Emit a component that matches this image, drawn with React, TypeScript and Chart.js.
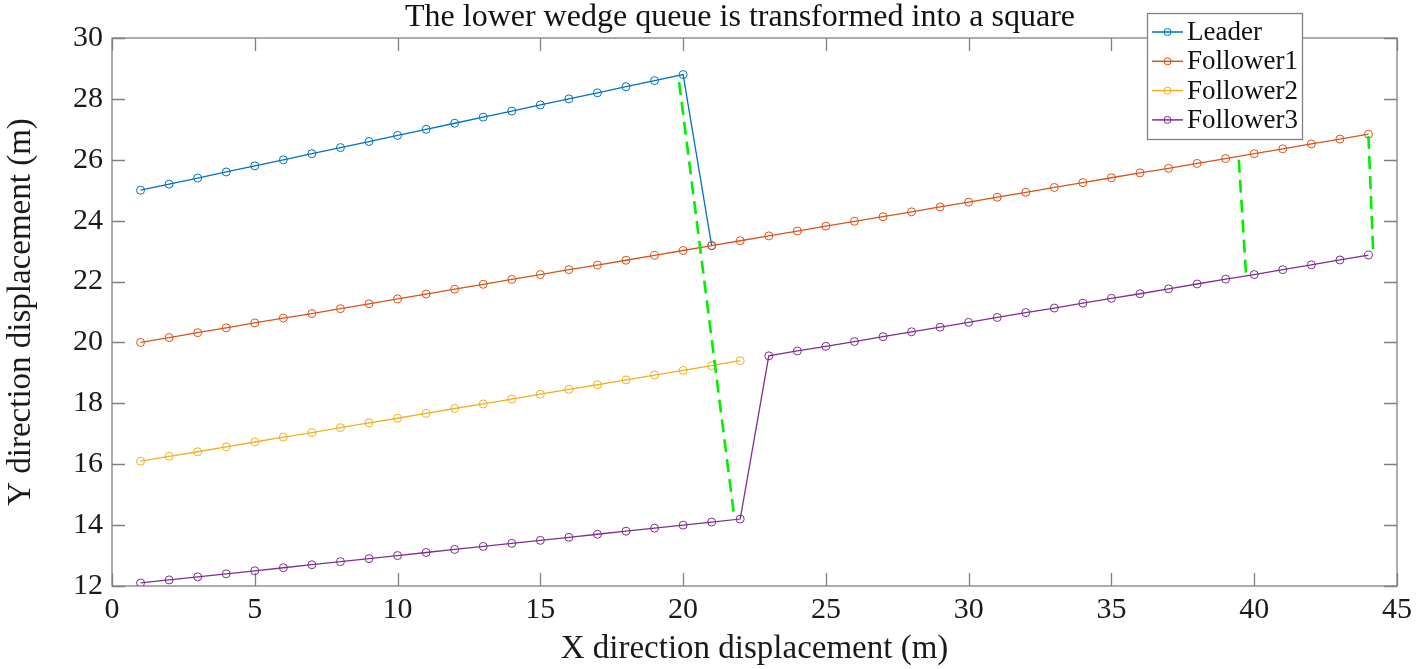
import React, { useEffect, useRef } from 'react';
import { Chart, registerables } from 'chart.js';

Chart.register(...registerables);

const chartTitle = 'The lower wedge queue is transformed into a square';
const xAxisTitle = 'X direction displacement (m)';
const yAxisTitle = 'Y direction displacement (m)';
const xTicks = [0, 5, 10, 15, 20, 25, 30, 35, 40, 45];
const yTicks = [12, 14, 16, 18, 20, 22, 24, 26, 28, 30];

const seriesNames = ['Leader', 'Follower1', 'Follower2', 'Follower3'];
const seriesColors = ['#0072BD', '#D95319', '#EDB120', '#7E2F8E'];

const leaderX = [1, 2, 3, 4, 5, 6, 7, 8, 9, 10, 11, 12, 13, 14, 15, 16, 17, 18, 19, 20, 21];
const leaderY = [25.0, 25.2, 25.4, 25.6, 25.8, 26.0, 26.2, 26.4, 26.6, 26.8, 27.0, 27.2, 27.4, 27.6, 27.8, 28.0, 28.2, 28.4, 28.6, 28.8, 23.18];

const follower1X = [1, 2, 3, 4, 5, 6, 7, 8, 9, 10, 11, 12, 13, 14, 15, 16, 17, 18, 19, 20, 21, 22,
  23, 24, 25, 26, 27, 28, 29, 30, 31, 32, 33, 34, 35, 36, 37, 38, 39, 40, 41, 42, 43, 44];
const follower1Y = [20.00, 20.16, 20.32, 20.48, 20.64, 20.80, 20.95, 21.11, 21.27, 21.43, 21.59, 21.75,
  21.91, 22.07, 22.23, 22.39, 22.54, 22.70, 22.86, 23.02, 23.18, 23.34, 23.50, 23.66, 23.82, 23.98,
  24.13, 24.29, 24.45, 24.61, 24.77, 24.93, 25.09, 25.25, 25.41, 25.57, 25.72, 25.88, 26.04, 26.20,
  26.36, 26.52, 26.68, 26.84];

const follower2X = [1, 2, 3, 4, 5, 6, 7, 8, 9, 10, 11, 12, 13, 14, 15, 16, 17, 18, 19, 20, 21, 22];
const follower2Y = [16.10, 16.26, 16.41, 16.57, 16.73, 16.89, 17.04, 17.20, 17.36, 17.51, 17.67, 17.83,
  17.98, 18.14, 18.30, 18.46, 18.61, 18.77, 18.93, 19.08, 19.24, 19.40];

const follower3X = [1, 2, 3, 4, 5, 6, 7, 8, 9, 10, 11, 12, 13, 14, 15, 16, 17, 18, 19, 20, 21, 22,
  23, 24, 25, 26, 27, 28, 29, 30, 31, 32, 33, 34, 35, 36, 37, 38, 39, 40, 41, 42, 43, 44];
const follower3Y = [12.1, 12.2, 12.3, 12.4, 12.5, 12.6, 12.7, 12.8, 12.9, 13.0, 13.1, 13.2, 13.3, 13.4,
  13.5, 13.6, 13.7, 13.8, 13.9, 14.0, 14.1, 14.2, 19.56, 19.72, 19.87, 20.03, 20.19, 20.35, 20.50,
  20.66, 20.82, 20.98, 21.13, 21.29, 21.45, 21.60, 21.76, 21.92, 22.08, 22.23, 22.39, 22.55, 22.71, 22.87];

// green dashed connector lines (start/end x and y)
const link1X = [19.86, 21.78];
const link1Y = [28.55, 14.35];
const link2X = [39.46, 39.72];
const link2Y = [26.0, 22.15];
const link3X = [44.0, 44.17];
const link3Y = [26.78, 22.87];

const SERIF = '"Liberation Serif", "Times New Roman", serif';
const AXIS_GRAY = '#808080';
const TEXT = '#1a1a1a';

const zip = (xs: number[], ys: number[]) => xs.map((x, i) => ({ x, y: ys[i] }));

const framePlugin = {
  id: 'frameTicks',
  beforeDatasetsDraw(chart: any) {
    const { ctx, chartArea, scales } = chart;
    const { left, right, top, bottom } = chartArea;
    const tl = 13;
    ctx.save();
    ctx.strokeStyle = AXIS_GRAY;
    ctx.lineWidth = 1.3;
    ctx.beginPath();
    xTicks.forEach((v) => {
      const px = Math.round(scales.x.getPixelForValue(v)) + 0.5;
      ctx.moveTo(px, bottom);
      ctx.lineTo(px, bottom - tl);
      ctx.moveTo(px, top);
      ctx.lineTo(px, top + tl);
    });
    yTicks.forEach((v) => {
      const py = Math.round(scales.y.getPixelForValue(v)) + 0.5;
      ctx.moveTo(left, py);
      ctx.lineTo(left + tl, py);
      ctx.moveTo(right, py);
      ctx.lineTo(right - tl, py);
    });
    ctx.stroke();
    ctx.strokeRect(left, top, right - left, bottom - top);
    ctx.restore();
  },
  afterDraw(chart: any) {
    const { ctx } = chart;
    ctx.save();
    // title
    ctx.fillStyle = '#111';
    ctx.font = `32px ${SERIF}`;
    ctx.textAlign = 'center';
    ctx.textBaseline = 'alphabetic';
    ctx.fillText(chartTitle, 740, 26);

    // legend
    const bx = 1147, by = 13, bw = 155, bh = 126;
    ctx.fillStyle = '#ffffff';
    ctx.fillRect(bx, by, bw, bh);
    ctx.strokeStyle = AXIS_GRAY;
    ctx.lineWidth = 1.3;
    ctx.strokeRect(bx + 0.5, by + 0.5, bw, bh);
    ctx.font = `27px ${SERIF}`;
    ctx.textAlign = 'left';
    ctx.textBaseline = 'middle';
    seriesNames.forEach((name, i) => {
      const cy = 32 + i * 29.3;
      ctx.strokeStyle = seriesColors[i];
      ctx.lineWidth = 1.5;
      ctx.beginPath();
      ctx.moveTo(1152, cy);
      ctx.lineTo(1183, cy);
      ctx.stroke();
      ctx.beginPath();
      ctx.arc(1167.5, cy, 3.5, 0, Math.PI * 2);
      ctx.lineWidth = 1;
      ctx.stroke();
      ctx.fillStyle = '#111';
      ctx.fillText(name, 1187, cy + 1);
    });
    ctx.restore();
  },
};

export default function App() {
  const canvasRef = useRef<HTMLCanvasElement | null>(null);

  useEffect(() => {
    if (!canvasRef.current) return;
    const lineDs = (label: string, xs: number[], ys: number[], color: string, order: number) => ({
      label,
      data: zip(xs, ys),
      borderColor: color,
      backgroundColor: 'rgba(0,0,0,0)',
      borderWidth: 1.3,
      showLine: true,
      pointStyle: 'circle',
      pointRadius: 4,
      pointBorderWidth: 1,
      pointBorderColor: color,
      pointBackgroundColor: 'rgba(0,0,0,0)',
      order,
    });
    const dashDs = (xs: number[], ys: number[]) => ({
      label: 'link',
      data: zip(xs, ys),
      borderColor: '#00ee00',
      borderWidth: 2.6,
      borderDash: [13, 7],
      showLine: true,
      pointRadius: 0,
      order: 1,
    });
    const chart = new Chart(canvasRef.current, {
      type: 'scatter',
      data: {
        datasets: [
          lineDs(seriesNames[0], leaderX, leaderY, seriesColors[0], 5),
          lineDs(seriesNames[1], follower1X, follower1Y, seriesColors[1], 4),
          lineDs(seriesNames[2], follower2X, follower2Y, seriesColors[2], 3),
          lineDs(seriesNames[3], follower3X, follower3Y, seriesColors[3], 2),
          dashDs(link1X, link1Y),
          dashDs(link2X, link2Y),
          dashDs(link3X, link3Y),
        ] as any,
      },
      options: {
        responsive: false,
        animation: false,
        devicePixelRatio: 1,
        layout: { padding: { top: 38, right: 16, left: 0, bottom: 0 } },
        plugins: {
          legend: { display: false },
          title: { display: false },
          tooltip: { enabled: false },
        },
        scales: {
          x: {
            type: 'linear',
            min: 0,
            max: 45,
            afterFit: (s: any) => { s.height = 83; },
            afterBuildTicks: (s: any) => { s.ticks = xTicks.map((v) => ({ value: v })); },
            grid: { display: false, drawTicks: false },
            border: { display: false },
            ticks: {
              padding: 6,
              color: TEXT,
              font: { family: SERIF, size: 30 },
              maxRotation: 0,
            },
            title: {
              display: true,
              text: xAxisTitle,
              color: TEXT,
              font: { family: SERIF, size: 33 },
              padding: { top: 0, bottom: 0 },
            },
          },
          y: {
            type: 'linear',
            min: 12,
            max: 30,
            afterFit: (s: any) => { s.width = 112; },
            afterBuildTicks: (s: any) => { s.ticks = yTicks.map((v) => ({ value: v })); },
            grid: { display: false, drawTicks: false },
            border: { display: false },
            ticks: {
              padding: 9,
              color: TEXT,
              font: { family: SERIF, size: 30 },
            },
            title: {
              display: true,
              text: yAxisTitle,
              color: TEXT,
              font: { family: SERIF, size: 33 },
              padding: { top: 2, bottom: 0 },
            },
          },
        },
      },
      plugins: [framePlugin],
    });
    return () => chart.destroy();
  }, []);

  return (
    <div style={{ position: 'fixed', left: 0, top: 0, width: 1418, height: 669, background: '#fff' }}>
      <canvas ref={canvasRef} width={1418} height={669} style={{ width: 1418, height: 669, display: 'block' }} />
    </div>
  );
}
